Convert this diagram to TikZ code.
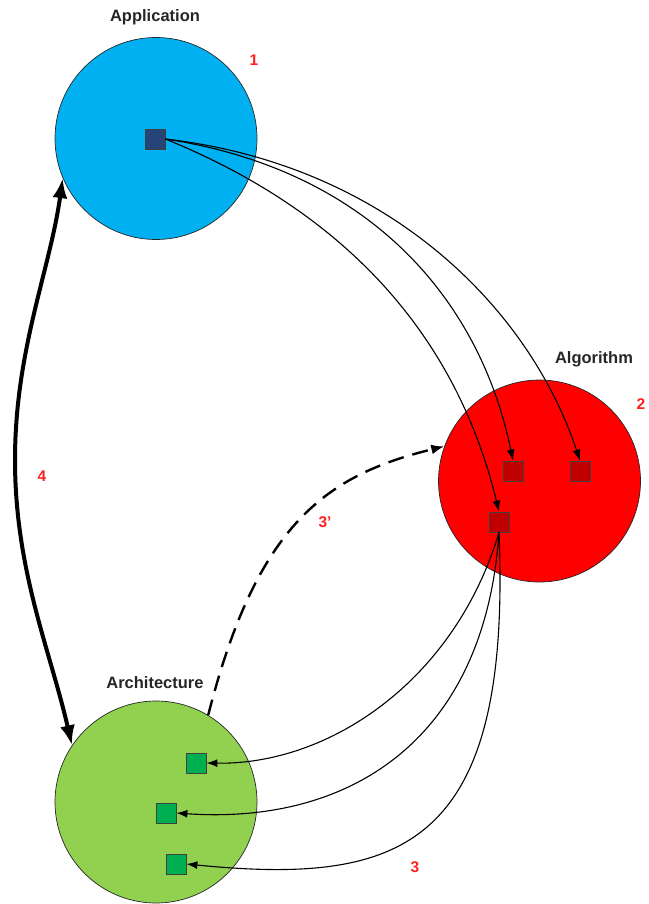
\documentclass[tikz,border=0pt]{standalone}
\usepackage{fontspec}
\setmainfont{Liberation Sans}
\usetikzlibrary{arrows.meta}
\definecolor{appblue}{HTML}{00B0F0}
\definecolor{appsq}{HTML}{264478}
\definecolor{algred}{HTML}{FF0000}
\definecolor{algsq}{HTML}{C00000}
\definecolor{archgreen}{HTML}{92D050}
\definecolor{archsq}{HTML}{00B050}
\definecolor{numred}{HTML}{FF2020}
\tikzset{
  realm/.style={circle, draw=black!85, line width=0.7pt, minimum size=202pt, inner sep=0pt},
  elem/.style={rectangle, draw=black!75, line width=0.8pt, minimum size=20pt, inner sep=0pt},
  heading/.style={font=\bfseries\fontsize{16.5}{19}\selectfont, text=black!85},
  stepnum/.style={font=\bfseries\fontsize{15.5}{18}\selectfont, text=numred},
  flowline/.style={line width=1.1pt, -{Latex[length=11pt,width=8pt]}},
  feedbackline/.style={line width=2.4pt, dash pattern=on 16pt off 9pt, -{Latex[length=13pt,width=10pt]}},
  mutualline/.style={line width=4pt, {Latex[length=20pt,width=15pt]}-{Latex[length=20pt,width=15pt]}}
}
\begin{document}
\begin{tikzpicture}[x=1pt,y=-1pt]
\useasboundingbox (0,0) rectangle (648,904);
% the three domains
\node[realm, fill=appblue] (app) at (156,138.5) {};
\node[realm, fill=algred] (alg) at (539.5,481) {};
\node[realm, fill=archgreen] (arch) at (156,802) {};
% titles and step numbers
\node[heading] (tapp) at (155,17) {Application};
\node[heading] (talg) at (594,359) {Algorithm};
\node[heading] (tarch) at (155,683) {Architecture};
\node[stepnum] (n1) at (254,60) {1};
\node[stepnum] (n2) at (641,404) {2};
\node[stepnum] (n3) at (415,867) {3};
\node[stepnum] (n3p) at (325,522) {3'};
\node[stepnum] (n4) at (42,476) {4};
% elements inside the domains
\node[elem, fill=appsq] (a0) at (155,139) {};
\node[elem, fill=algsq] (g1) at (513,471) {};
\node[elem, fill=algsq] (g2) at (580,471) {};
\node[elem, fill=algsq] (g3) at (499,522) {};
\node[elem, fill=archsq] (h1) at (196,763) {};
\node[elem, fill=archsq] (h2) at (166,813) {};
\node[elem, fill=archsq] (h3) at (176,864) {};
% application -> algorithm
\draw[flowline] (a0.east) .. controls (390,165) and (530,310) .. (g2.north);
\draw[flowline] (a0.east) .. controls (370,170) and (480,300) .. (g1.north);
\draw[flowline] (a0.east) .. controls (340,210) and (455,330) .. (g3.north);
% algorithm -> architecture
\draw[flowline] (g3.south) .. controls (455,680) and (330,765) .. (h1.east);
\draw[flowline] (g3.south) .. controls (485,740) and (350,825) .. (h2.east);
\draw[flowline] (g3.south) .. controls (512,850) and (400,885) .. (h3.east);
% architecture feeds back to algorithm
\draw[feedbackline] (arch.59) .. controls (257,523) and (327,475) .. (alg.160);
% application <-> architecture
\coordinate (mid4) at (15,460);
\draw[mutualline] (app.203) .. controls (50,270) and (15,350) .. (mid4)
  .. controls (15,570) and (50,650) .. (arch.146);
\end{tikzpicture}
\end{document}
